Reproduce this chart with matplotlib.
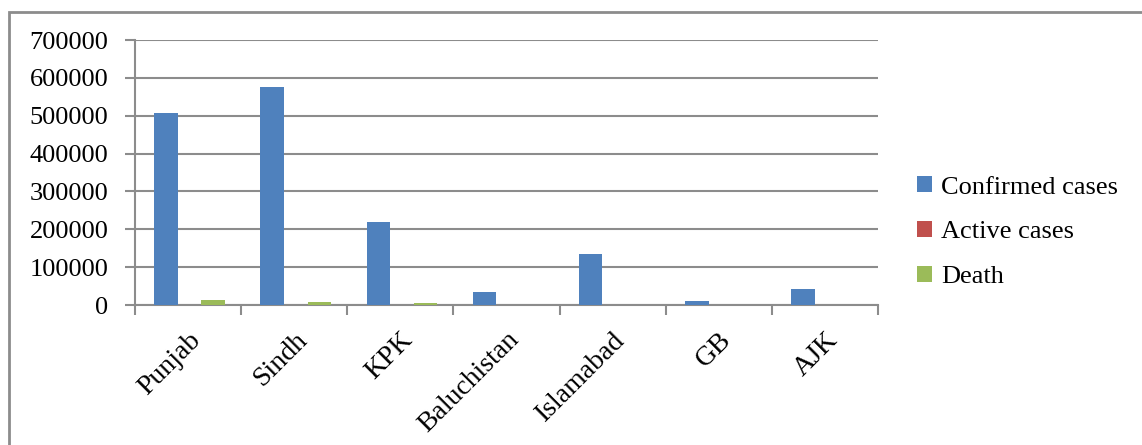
import matplotlib
matplotlib.use("Agg")
import numpy as np
import matplotlib.pyplot as plt
from matplotlib.patches import Rectangle

# data
provinces = ['Punjab', 'Sindh', 'KPK', 'Baluchistan', 'Islamabad', 'GB', 'AJK']
confirmed = [507000, 577000, 220000, 35000, 135000, 11000, 42000]
active = [500, 400, 200, 100, 100, 50, 100]
death = [13000, 8500, 6000, 350, 1200, 200, 1000]

series_names = ['Confirmed cases', 'Active cases', 'Death']
colors = ['#4F81BD', '#C0504D', '#9BBB59']

plt.rcParams['font.family'] = ['Liberation Serif', 'DejaVu Serif']

fig = plt.figure(figsize=(11.42, 4.45), dpi=100)
ax = fig.add_axes([0.1182, 0.3146, 0.7688 - 0.1182, 0.9101 - 0.3146])

x = np.arange(len(provinces))
w = 0.222
for i, (vals, name, c) in enumerate(zip([confirmed, active, death], series_names, colors)):
    ax.bar(x + (i - 1) * w + 0.015, vals, w, color=c, label=name, zorder=3)

ax.set_xlim(-0.5, len(provinces) - 0.5)
ax.set_ylim(0, 700000)
ax.set_yticks(np.arange(0, 700001, 100000))
ax.set_yticklabels([str(v) for v in range(0, 700001, 100000)], fontsize=19)
ax.yaxis.grid(True, color='#8c8c8c', linewidth=1.5, zorder=0)

ax.set_xticks(x)
ax.set_xticklabels(provinces, rotation=45, ha='right', rotation_mode='anchor', fontsize=20)
ax.set_xticks(np.arange(-0.5, len(provinces)), minor=True)
ax.tick_params(axis='x', which='major', length=0, pad=16)
ax.tick_params(axis='x', which='minor', length=7, width=1.5, color='#8c8c8c')
ax.tick_params(axis='y', length=7, width=1.5, color='#8c8c8c', pad=12)

for s in ['top', 'right']:
    ax.spines[s].set_visible(False)
for s in ['left', 'bottom']:
    ax.spines[s].set_color('#8c8c8c')
    ax.spines[s].set_linewidth(1.5)

leg = ax.legend(loc='center left', bbox_to_anchor=(1.021, 0.275), frameon=False,
                fontsize=19, handlelength=0.55, handleheight=0.55,
                handletextpad=0.35, labelspacing=0.85)

# figure border
fig.patches.append(Rectangle((9 / 1142, -0.1), 1.5, 1 - 12 / 445 + 0.1,
                             transform=fig.transFigure, fill=False,
                             edgecolor='#8c8c8c', linewidth=2))

fig.savefig('out.png', dpi=100)
